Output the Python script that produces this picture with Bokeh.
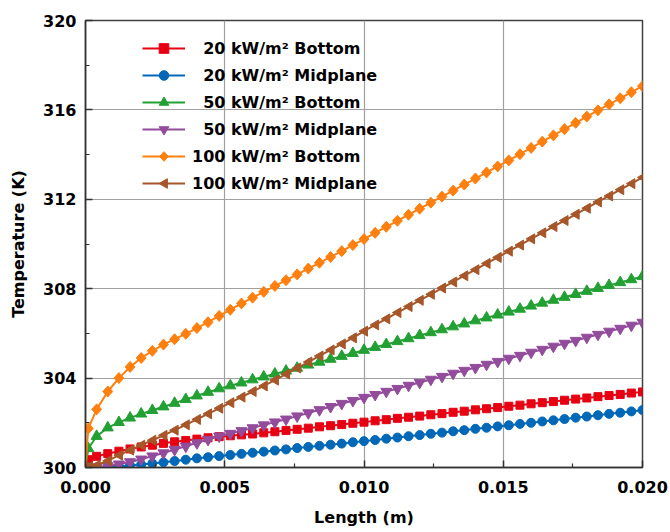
import math
from bokeh.plotting import figure
from bokeh.models import FixedTicker, PrintfTickFormatter, Legend, LegendItem, CustomJS
from bokeh.embed import file_html
from bokeh.resources import INLINE

LENGTH = [0.0, 0.0001, 0.0004, 0.0008, 0.0012, 0.0016, 0.0020, 0.0024, 0.0028, 0.0032,
          0.0036, 0.0040, 0.0044, 0.0048, 0.0052, 0.0056, 0.0060, 0.0064, 0.0068, 0.0072,
          0.0076, 0.0080, 0.0084, 0.0088, 0.0092, 0.0096, 0.0100, 0.0104, 0.0108, 0.0112,
          0.0116, 0.0120, 0.0124, 0.0128, 0.0132, 0.0136, 0.0140, 0.0144, 0.0148, 0.0152,
          0.0156, 0.0160, 0.0164, 0.0168, 0.0172, 0.0176, 0.0180, 0.0184, 0.0188, 0.0192,
          0.0196, 0.0200]

T20_BOTTOM = [300.00, 300.35, 300.50, 300.62, 300.73, 300.83, 300.92, 301.00, 301.08, 301.15,
              301.21, 301.27, 301.33, 301.38, 301.42, 301.46, 301.50, 301.55, 301.60, 301.66,
              301.71, 301.76, 301.82, 301.87, 301.92, 301.98, 302.03, 302.09, 302.14, 302.20,
              302.25, 302.30, 302.36, 302.41, 302.47, 302.52, 302.58, 302.63, 302.68, 302.74,
              302.79, 302.85, 302.90, 302.95, 303.01, 303.06, 303.11, 303.17, 303.22, 303.27,
              303.33, 303.38]

T20_MID = [300.00, 300.00, 300.00, 300.02, 300.05, 300.09, 300.13, 300.18, 300.23, 300.29,
           300.35, 300.41, 300.46, 300.51, 300.56, 300.61, 300.66, 300.71, 300.76, 300.81,
           300.87, 300.92, 300.97, 301.02, 301.07, 301.13, 301.18, 301.23, 301.29, 301.34,
           301.40, 301.45, 301.51, 301.56, 301.62, 301.67, 301.73, 301.78, 301.84, 301.89,
           301.95, 302.00, 302.06, 302.11, 302.17, 302.23, 302.28, 302.34, 302.40, 302.45,
           302.51, 302.57]

T50_BOTTOM = [300.00, 300.85, 301.40, 301.78, 302.02, 302.22, 302.40, 302.56, 302.72, 302.88,
              303.05, 303.21, 303.37, 303.53, 303.66, 303.79, 303.93, 304.06, 304.19, 304.32,
              304.45, 304.59, 304.72, 304.85, 304.98, 305.11, 305.25, 305.38, 305.51, 305.64,
              305.77, 305.91, 306.04, 306.17, 306.30, 306.43, 306.57, 306.70, 306.83, 306.96,
              307.09, 307.23, 307.36, 307.49, 307.62, 307.75, 307.89, 308.02, 308.15, 308.28,
              308.41, 308.55]

T50_MID = [300.00, 300.00, 300.02, 300.07, 300.15, 300.25, 300.37, 300.51, 300.65, 300.80,
           300.95, 301.10, 301.25, 301.40, 301.52, 301.64, 301.77, 301.90, 302.03, 302.16,
           302.30, 302.44, 302.58, 302.72, 302.86, 302.99, 303.13, 303.26, 303.40, 303.53,
           303.67, 303.80, 303.94, 304.07, 304.21, 304.34, 304.47, 304.61, 304.74, 304.88,
           305.01, 305.15, 305.28, 305.42, 305.55, 305.68, 305.82, 305.95, 306.09, 306.22,
           306.36, 306.49]

T100_BOTTOM = [300.00, 301.75, 302.60, 303.40, 304.00, 304.50, 304.90, 305.22, 305.50, 305.74,
               305.98, 306.24, 306.50, 306.78, 307.06, 307.34, 307.60, 307.86, 308.12, 308.38,
               308.64, 308.90, 309.16, 309.42, 309.68, 309.95, 310.22, 310.50, 310.77, 311.04,
               311.31, 311.58, 311.85, 312.12, 312.39, 312.66, 312.93, 313.20, 313.47, 313.74,
               314.02, 314.30, 314.58, 314.86, 315.14, 315.42, 315.70, 315.98, 316.25, 316.52,
               316.79, 317.06]

T100_MID = [300.00, 300.02, 300.10, 300.30, 300.55, 300.78, 301.00, 301.22, 301.44, 301.67,
            301.91, 302.15, 302.40, 302.65, 302.90, 303.15, 303.40, 303.65, 303.91, 304.18,
            304.45, 304.72, 304.99, 305.26, 305.53, 305.80, 306.10, 306.38, 306.65, 306.93,
            307.20, 307.48, 307.75, 308.03, 308.30, 308.58, 308.85, 309.13, 309.40, 309.68,
            309.95, 310.23, 310.50, 310.78, 311.05, 311.33, 311.60, 311.88, 312.15, 312.43,
            312.70, 312.98]

LABELS = ["\u200720 kW/m\u00b2 Bottom", "\u200720 kW/m\u00b2 Midplane",
          "\u200750 kW/m\u00b2 Bottom", "\u200750 kW/m\u00b2 Midplane",
          "100 kW/m\u00b2 Bottom", "100 kW/m\u00b2 Midplane"]

X_TICKS = [0.0, 0.005, 0.010, 0.015, 0.020]
X_MINOR = [0.0025, 0.0075, 0.0125, 0.0175]
Y_TICKS = [300, 304, 308, 312, 316, 320]
Y_MINOR = [302, 306, 310, 314, 318]

FONT = "DejaVu Sans"

LEFT_TRI = CustomJS(code="""
export default (args, obj, {ctx, i, r, visuals}) => {
  ctx.moveTo(-r, 0)
  ctx.lineTo(0.7*r, -r)
  ctx.lineTo(0.7*r, r)
  ctx.closePath()
  visuals.fill.apply(ctx, i)
  visuals.line.apply(ctx, i)
}
""")

FAT_DIAMOND = CustomJS(code="""
export default (args, obj, {ctx, i, r, visuals}) => {
  ctx.moveTo(0, -r)
  ctx.lineTo(0.9*r, 0)
  ctx.lineTo(0, r)
  ctx.lineTo(-0.9*r, 0)
  ctx.closePath()
  visuals.fill.apply(ctx, i)
  visuals.line.apply(ctx, i)
}
""")

p = figure(width=670, height=532, output_backend="svg", toolbar_location=None,
           x_range=(0.0, 0.020), y_range=(300, 320),
           min_border_left=85, min_border_right=28, min_border_top=20, min_border_bottom=65)

p.outline_line_color = "#404040"
p.outline_line_width = 1.5

for ax in (p.xaxis[0], p.yaxis[0]):
    ax.axis_line_color = "#303030"
    ax.axis_line_width = 1.5
    ax.major_tick_in = 7
    ax.major_tick_out = 0
    ax.minor_tick_in = 4
    ax.minor_tick_out = 0
    ax.major_tick_line_color = "#303030"
    ax.minor_tick_line_color = "#303030"
    ax.major_tick_line_width = 1.5
    ax.minor_tick_line_width = 1.2
    ax.major_label_text_font = FONT
    ax.major_label_text_font_style = "bold"
    ax.major_label_text_font_size = "16px"
    ax.major_label_text_color = "black"
    ax.axis_label_text_font = FONT
    ax.axis_label_text_font_style = "bold"
    ax.axis_label_text_font_size = "16px"
    ax.axis_label_text_color = "black"

p.xaxis[0].ticker = FixedTicker(ticks=X_TICKS, minor_ticks=X_MINOR)
p.xaxis[0].formatter = PrintfTickFormatter(format="%.3f")
p.yaxis[0].ticker = FixedTicker(ticks=Y_TICKS, minor_ticks=Y_MINOR)
p.xaxis[0].axis_label = "Length (m)"
p.yaxis[0].axis_label = "Temperature (K)"
p.xaxis[0].major_label_standoff = 13
p.yaxis[0].major_label_standoff = 9
p.xaxis[0].axis_label_standoff = 12
p.yaxis[0].axis_label_standoff = 12

p.xgrid[0].ticker = p.xaxis[0].ticker
p.ygrid[0].ticker = p.yaxis[0].ticker
for g in (p.xgrid[0], p.ygrid[0]):
    g.grid_line_color = "#a0a0a0"
    g.grid_line_width = 1.2

series = [
    (T20_BOTTOM, "#e60012", "square", 8, None),
    (T20_MID, "#0068b7", "circle", 9, None),
    (T50_BOTTOM, "#22a033", "triangle", 11, None),
    (T50_MID, "#924c9b", "inverted_triangle", 11, None),
    (T100_BOTTOM, "#ff7f0f", "@fat_diamond", 11, FAT_DIAMOND),
    (T100_MID, "#a65628", "@left_tri", 10, LEFT_TRI),
]

items = []
for (vals, color, marker, size, mdef), label in zip(series, LABELS):
    r1 = p.line(LENGTH, vals, line_color=color, line_width=2)
    kw = {}
    if mdef is not None:
        kw["defs"] = {marker: mdef}
    r2 = p.scatter(LENGTH, vals, marker=marker, size=size,
                   fill_color=color, line_color=color, **kw)
    items.append(LegendItem(label=label, renderers=[r1, r2]))

legend = Legend(items=items, location=(57, 272), margin=0, padding=0,
                border_line_color=None, background_fill_alpha=0,
                label_text_font=FONT, label_text_font_style="bold",
                label_text_font_size="16px", label_text_color="black",
                glyph_width=43, glyph_height=24, label_height=20,
                spacing=3, label_standoff=7)
p.add_layout(legend, "center")

open("out.html", "w").write(file_html(p, INLINE))
